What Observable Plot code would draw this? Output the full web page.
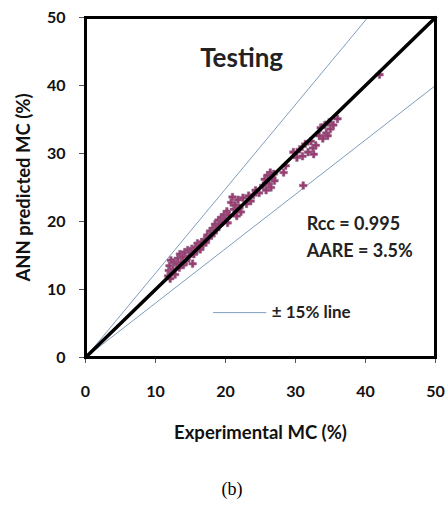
<!DOCTYPE html>
<html>
<head>
<meta charset="utf-8">
<script src="https://cdn.jsdelivr.net/npm/d3@7"></script>
<script src="https://cdn.jsdelivr.net/npm/@observablehq/plot@0.6"></script>
<style>
  body { margin: 0; background: #fff; }
  #chart { width: 446px; }
  #caption { font-family: "Liberation Serif", "DejaVu Serif", serif; font-size: 18px; width: 446px; text-align: center; padding-left: 18px; box-sizing: border-box; margin-top: 24px; }
</style>
</head>
<body>
<div id="chart"></div>
<div id="caption">(b)</div>
<script>
const expX = [11.8,11.9,12.0,12.1,12.2,12.3,12.5,12.6,12.8,
  13.0,13.2,13.4,13.5,13.7,13.9,14.0,14.2,14.4,14.6,14.8,
  15.0,15.2,15.3,15.5,15.7,15.9,16.0,16.2,16.4,16.6,16.8,
  17.0,17.2,17.4,17.6,17.8,18.0,18.2,18.3,18.5,18.7,18.9,
  19.0,19.2,19.4,19.6,19.8,20.0,20.2,20.3,20.5,
  20.8,21.0,21.2,21.4,21.6,21.8,22.0,22.2,22.5,
  23.0,23.3,23.6,24.0,24.3,24.8,
  25.4,25.6,25.8,26.0,26.2,26.4,26.5,26.7,26.9,27.0,
  28.3,28.6,
  29.7,30.2,30.6,31.0,31.1,31.4,31.8,32.2,32.5,32.9,32.6,
  33.4,33.6,33.9,34.2,34.4,34.6,34.8,35.0,35.4,36.0,
  42.0];
const annY = [12.0,12.8,13.5,11.6,14.3,12.5,13.0,14.0,12.2,
  13.8,14.6,13.2,15.2,14.0,14.8,13.6,15.5,14.2,15.8,14.9,
  15.6,16.0,13.8,15.2,16.2,15.7,16.8,16.3,15.9,17.0,16.6,
  17.3,16.9,18.0,17.6,18.6,17.9,19.0,18.3,19.6,18.8,19.3,
  20.2,19.6,20.6,19.9,21.0,20.4,21.5,19.8,20.9,
  22.8,23.6,21.8,22.4,20.8,23.2,22.0,21.4,23.5,
  22.6,23.8,23.0,23.9,24.6,24.2,
  25.3,26.2,24.6,26.8,25.6,27.2,25.0,26.4,27.0,26.0,
  27.2,28.2,
  30.2,29.4,30.6,29.6,25.3,31.4,30.2,31.8,30.8,31.2,29.9,
  32.6,33.8,32.2,34.2,33.0,32.6,34.6,33.6,34.2,35.1,
  41.6];
const axisTicks = [0, 10, 20, 30, 40, 50];
const boundSlopes = [1.24, 0.8];
const titleText = ["Testing"];
const statsText = ["Rcc = 0.995", "AARE = 3.5%"];
const legendText = ["± 15% line"];

const points = expX.map((x, i) => ({x, y: annY[i]}));
const boundLines = boundSlopes.flatMap((s, k) => {
  const xEnd = Math.min(50, 50 / s);
  return [{k, x: 0, y: 0}, {k, x: xEnd, y: xEnd * s}];
});
const oneToOne = [{x: 0, y: 0}, {x: 50, y: 50}];

const font = "Lato, 'Open Sans', sans-serif";
const chart = Plot.plot({
  width: 446,
  height: 455,
  marginLeft: 85,
  marginRight: 11,
  marginTop: 17,
  marginBottom: 98,
  style: {fontFamily: font, fontSize: "16px", fontWeight: "bold", color: "#111", background: "#fff"},
  x: {domain: [0, 50], ticks: axisTicks},
  y: {domain: [0, 50], ticks: axisTicks},
  marks: [
    Plot.axisX({ticks: axisTicks, tickSize: 6, tickPadding: 22, label: null, stroke: "#555", fontSize: 16}),
    Plot.axisX({ticks: [], label: "Experimental MC (%)", labelAnchor: "center", labelArrow: "none", labelOffset: 81, fontSize: 18.5}),
    Plot.axisY({ticks: axisTicks, tickSize: 6, tickPadding: 14, label: null, stroke: "#555", fontSize: 16}),
    Plot.axisY({ticks: [], label: "ANN predicted MC (%)", labelAnchor: "center", labelArrow: "none", labelOffset: 69, fontSize: 18.5}),
    Plot.line(boundLines, {x: "x", y: "y", z: "k", stroke: "#7f9dbd", strokeWidth: 1}),
    Plot.dot(points, {x: "x", y: "y", symbol: "cross", r: 3.2, fill: "#9c3b70", stroke: "#8a6a88", strokeWidth: 0.5}),
    Plot.line(oneToOne, {x: "x", y: "y", stroke: "#000", strokeWidth: 3.5}),
    Plot.frame({stroke: "#000", strokeWidth: 3}),
    Plot.text(titleText, {x: 22.3, y: 44, text: d => d, fontSize: 26, fill: "#222"}),
    Plot.text([statsText[0]], {x: 31.6, y: 19.6, text: d => d, textAnchor: "start", fontSize: 18, fill: "#222"}),
    Plot.text([statsText[1]], {x: 31.6, y: 15.6, text: d => d, textAnchor: "start", fontSize: 18, fill: "#222"}),
    Plot.ruleY([6.6], {x1: 18.3, x2: 25.9, stroke: "#7f9dbd", strokeWidth: 1}),
    Plot.text(legendText, {x: 26.6, y: 6.6, text: d => d, textAnchor: "start", fontSize: 17, fill: "#222"})
  ]
});
document.getElementById("chart").appendChild(chart);
</script>
</body>
</html>
